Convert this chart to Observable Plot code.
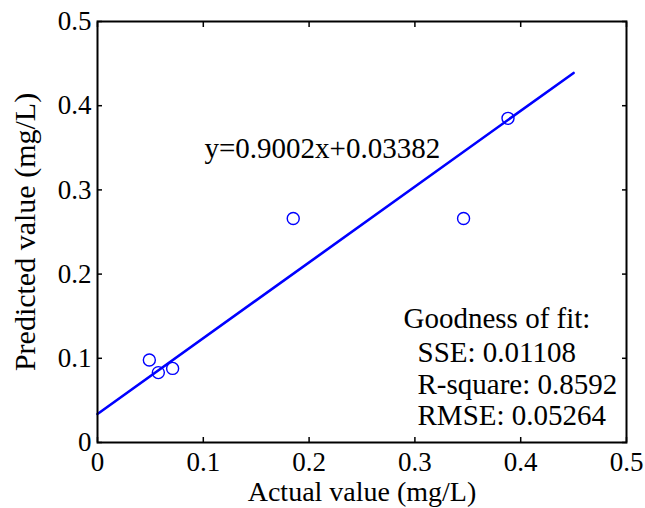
<!DOCTYPE html>
<html><head><meta charset="utf-8">
<script src="https://cdn.jsdelivr.net/npm/d3@7"></script>
<script src="https://cdn.jsdelivr.net/npm/@observablehq/plot@0.6"></script>
<style>body{margin:0;background:#fff}</style>
</head><body><div id="chart"></div>
<script>
const actual = [0.049, 0.0575, 0.071, 0.185, 0.346, 0.388];
const predicted = [0.098, 0.083, 0.088, 0.266, 0.266, 0.385];
const fitSlope = 0.9002;
const fitIntercept = 0.03382;
const fitRange = [0, 0.45];
const xTicks = [0, 0.1, 0.2, 0.3, 0.4, 0.5];
const yTicks = [0, 0.1, 0.2, 0.3, 0.4, 0.5];
const equationText = "y=0.9002x+0.03382";
const gofTitle = "Goodness of fit:";
const gofLines = ["SSE: 0.01108", "R-square: 0.8592", "RMSE: 0.05264"];
const xLabel = "Actual value (mg/L)";
const yLabel = "Predicted value (mg/L)";

const points = actual.map((a, i) => ({actual: a, predicted: predicted[i]}));
const fitLine = fitRange.map(x => ({x, y: fitSlope * x + fitIntercept}));
const font = "Liberation Serif";
const blue = "#0000ff";

const chart = Plot.plot({
  width: 645,
  height: 508,
  marginLeft: 97,
  marginRight: 19,
  marginTop: 21,
  marginBottom: 66,
  style: {fontFamily: font, fontSize: "27px", color: "black", background: "white"},
  x: {domain: [0, 0.5]},
  y: {domain: [0, 0.5]},
  marks: [
    Plot.axisX(xTicks, {anchor: "bottom", tickSize: 0, tickPadding: 9, label: null, fontSize: 27, tickFormat: d => String(d)}),
    Plot.axisY(yTicks, {anchor: "left", tickSize: 0, tickPadding: 6, label: null, fontSize: 27, tickFormat: d => String(d)}),
    Plot.axisX(xTicks, {anchor: "bottom", tickSize: -5, fill: "none", label: null, strokeWidth: 1.5}),
    Plot.axisX(xTicks, {anchor: "top", tickSize: -5, fill: "none", label: null, strokeWidth: 1.5}),
    Plot.axisY(yTicks, {anchor: "left", tickSize: -5, fill: "none", label: null, strokeWidth: 1.5}),
    Plot.axisY(yTicks, {anchor: "right", tickSize: -5, fill: "none", label: null, strokeWidth: 1.5}),
    Plot.line(fitLine, {x: "x", y: "y", stroke: blue, strokeWidth: 2.6}),
    Plot.dot(points, {x: "actual", y: "predicted", r: 6, stroke: blue, strokeWidth: 1.4, fill: "none"}),
    Plot.frame({stroke: "black", strokeWidth: 2}),
    Plot.text([equationText], {frameAnchor: "top-left", dx: 107, dy: 116, lineAnchor: "top", textAnchor: "start", fontSize: 29, fill: "black"}),
    Plot.text([gofTitle], {frameAnchor: "top-left", dx: 306, dy: 286, lineAnchor: "top", textAnchor: "start", fontSize: 29, fill: "black"}),
    Plot.text([gofLines.join("\n")], {frameAnchor: "top-left", dx: 320, dy: 318, lineAnchor: "top", textAnchor: "start", fontSize: 29, lineHeight: 1.09, fill: "black"}),
    Plot.text([xLabel], {frameAnchor: "bottom", dy: 50, lineAnchor: "middle", textAnchor: "middle", fontSize: 28, fill: "black"}),
    Plot.text([yLabel], {frameAnchor: "left", dx: -72, rotate: -90, lineAnchor: "middle", textAnchor: "middle", fontSize: 30, fill: "black"})
  ]
});
document.getElementById("chart").appendChild(chart);
</script>
</body></html>
